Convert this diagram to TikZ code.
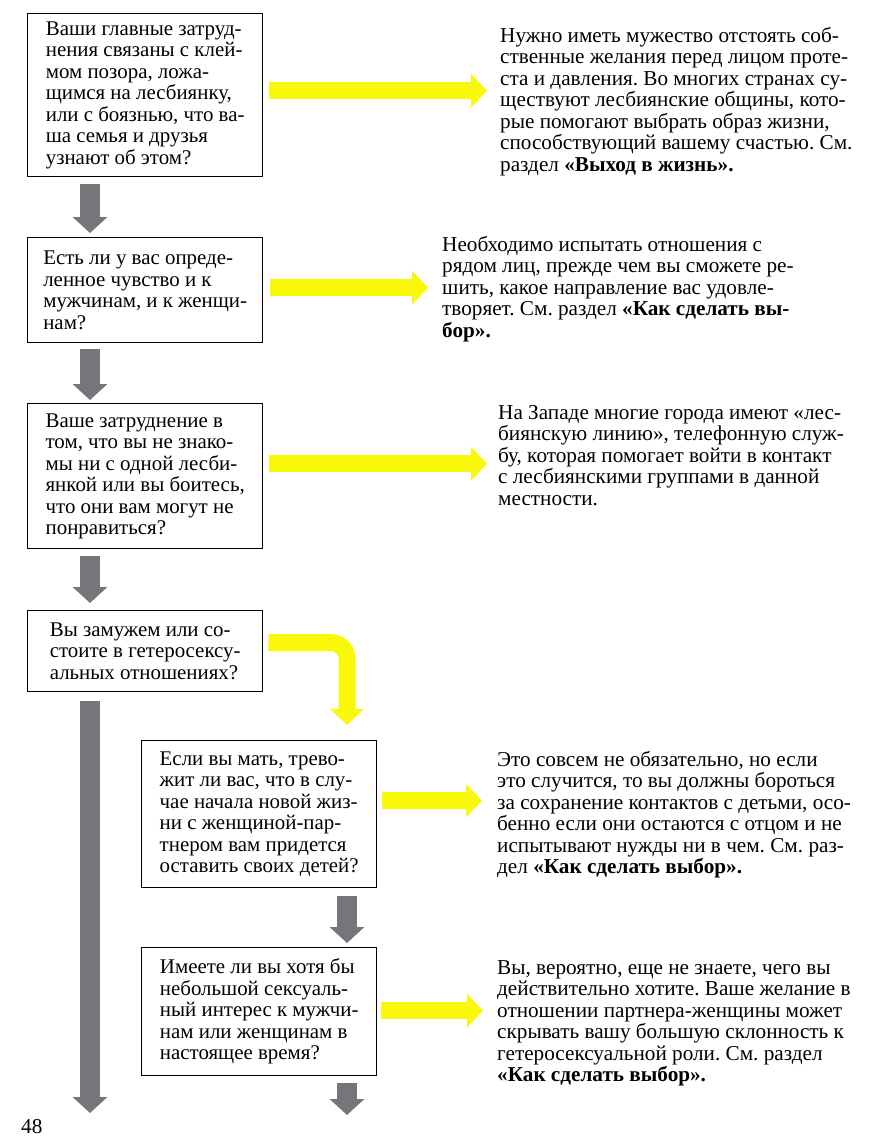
\documentclass[tikz,border=0pt]{standalone}
\usepackage{fontspec}
\setmainfont{Liberation Serif}
\usetikzlibrary{arrows.meta,calc}
\frenchspacing

\definecolor{markyellow}{RGB}{250,248,10}
\definecolor{arrowgray}{RGB}{118,118,122}

\tikzset{
  qbox/.style={draw, line width=1.4pt, anchor=north west, align=left, minimum width=235pt,
    inner xsep=15.5pt, inner ysep=0pt, font=\fontsize{20.9}{21.5}\selectfont},
  answer/.style={anchor=north west, align=left, inner sep=0pt, font=\fontsize{21.2}{21.5}\selectfont},
  yarrow/.style={draw=markyellow, line width=17pt, -{Triangle[length=16pt,width=33pt]}},
  garrow/.style={draw=arrowgray, line width=20pt, -{Triangle[length=16pt,width=34pt]}},
}

\begin{document}
\begin{tikzpicture}[x=1pt,y=-1pt]
                \useasboundingbox (0,0) rectangle (873,1138);
                \node[qbox, minimum height=163pt] (q1) at (27,13) {Ваши главные затруд-\\нения связаны с клей-\\мом позора, ложа-\\щимся на лесбиянку,\\или с боязнью, что ва-\\ша семья и друзья\\узнают об этом?};
                \node[qbox, minimum height=105pt] (q2) at (27,237) {Есть ли у вас опреде-\\ленное чувство и к\\мужчинам, и к женщи-\\нам?};
                \node[qbox, minimum height=145pt] (q3) at (27,403) {Ваше затруднение в\\том, что вы не знако-\\мы ни с одной лесби-\\янкой или вы боитесь,\\что они вам могут не\\понравиться?};
                \node[qbox, minimum height=81pt] (q4) at (27,610) {Вы замужем или со-\\стоите в гетеросексу-\\альных отношениях?};
                \node[qbox, minimum height=147pt] (q5) at (141,740) {Если вы мать, трево-\\жит ли вас, что в слу-\\чае начала новой жиз-\\ни с женщиной-пар-\\тнером вам придется\\оставить своих детей?};
                \node[qbox, minimum height=128pt] (q6) at (141,947) {Имеете ли вы хотя бы\\небольшой сексуаль-\\ный интерес к мужчи-\\нам или женщинам в\\настоящее время?};

                \node[answer] (a1) at (500,27) {Нужно иметь мужество отстоять соб-\\ственные желания перед лицом проте-\\ста и давления. Во многих странах су-\\ществуют лесбиянские общины, кото-\\рые помогают выбрать образ жизни,\\способствующий вашему счастью. См.\\раздел \textbf{«Выход в жизнь».}};
                \node[answer] (a2) at (442,236) {Необходимо испытать отношения с\\рядом лиц, прежде чем вы сможете ре-\\шить, какое направление вас удовле-\\творяет. См. раздел \textbf{«Как сделать вы-}\\\textbf{бор».}};
                \node[answer] (a3) at (498,405) {На Западе многие города имеют «лес-\\биянскую линию», телефонную служ-\\бу, которая помогает войти в контакт\\с лесбиянскими группами в данной\\местности.};
                \node[answer] (a5) at (497,751) {Это совсем не обязательно, но если\\это случится, то вы должны бороться\\за сохранение контактов с детьми, осо-\\бенно если они остаются с отцом и не\\испытывают нужды ни в чем. См. раз-\\дел \textbf{«Как сделать выбор».}};
                \node[answer] (a6) at (497,960) {Вы, вероятно, еще не знаете, чего вы\\действительно хотите. Ваше желание в\\отношении партнера-женщины может\\скрывать вашу большую склонность к\\гетеросексуальной роли. См. раздел\\\textbf{«Как сделать выбор».}};
                \node[answer] (pnum) at (21,1119) {48};

                \draw[yarrow] ($(q1.east)+(6,-4.5)$) -- ($(q1.east -| a1.west)+(-13,-4.5)$);
                \draw[yarrow] ($(q2.east)+(7,-2.5)$) -- ($(q2.east -| a2.west)+(-14,-2.5)$);
                \draw[yarrow] ($(q3.east)+(6,-12.5)$) -- ($(q3.east -| a3.west)+(-11,-12.5)$);
                \draw[yarrow, rounded corners=16pt] ($(q4.east)+(5,-8.5)$) -| ($(q5.north west)+(206,-15)$);
                \draw[yarrow] ($(q5.east)+(5,-13.5)$) -- ($(q5.east -| a5.west)+(-15,-13.5)$);
                \draw[yarrow] ($(q6.east)+(4,-1)$) -- ($(q6.east -| a6.west)+(-14,-1)$);

                \coordinate (end1) at (90,1113);
                \coordinate (end2) at (347,1115);
                \draw[garrow] ($(q1.south west)+(63,7)$) -- ($(q2.north west)+(63,-4)$);
                \draw[garrow] ($(q2.south west)+(63,6)$) -- ($(q3.north west)+(63,-3)$);
                \draw[garrow] ($(q3.south west)+(63,7)$) -- ($(q4.north west)+(63,-7)$);
                \draw[garrow] ($(q4.south west)+(63,9)$) -- (end1);
                \draw[garrow] ($(q5.south west)+(206,8)$) -- ($(q6.north west)+(206,-4)$);
                \draw[garrow] ($(q6.south west)+(206,7)$) -- (end2);
            \end{tikzpicture}
\end{document}
